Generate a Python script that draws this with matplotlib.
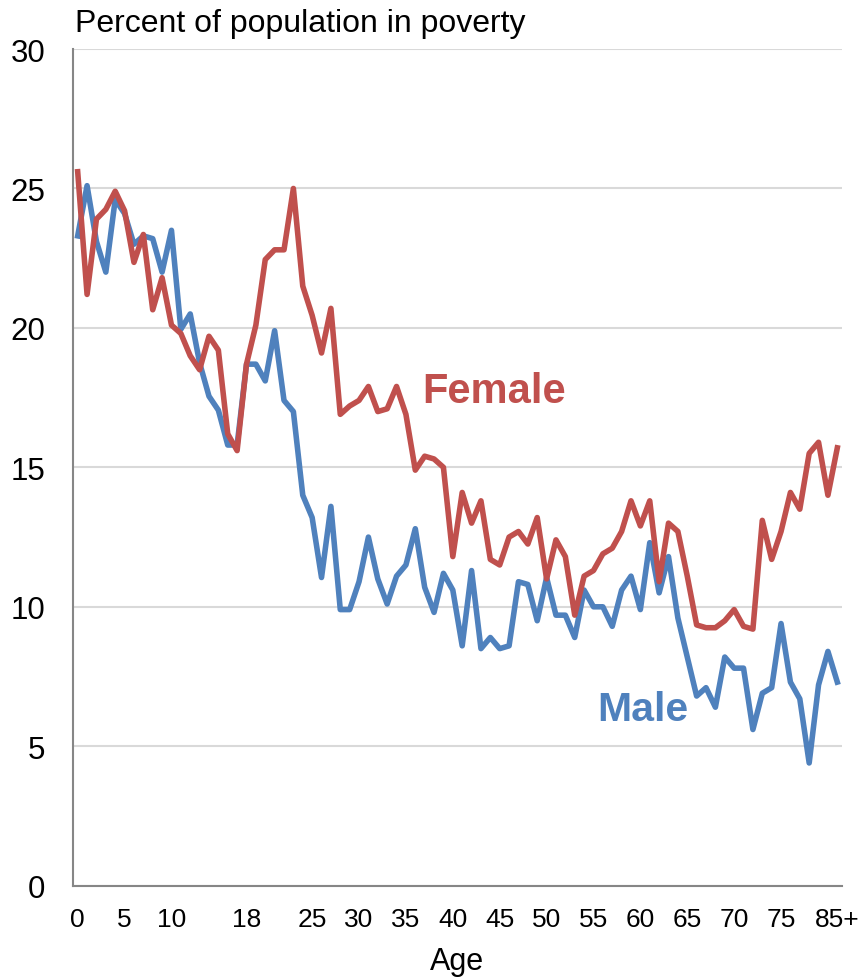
"""Poverty rate by single year of age, male vs female (line chart, labels on lines)."""

import matplotlib
matplotlib.use("Agg")
import matplotlib.pyplot as plt

# single years 0-79, then 80-84 and 85+ as the last two categories
age_index = list(range(82))

female = [25.6, 21.2, 23.9, 24.25, 24.9, 24.2, 22.35, 23.35, 20.65, 21.8,
          20.1, 19.8, 19.0, 18.5, 19.7, 19.2, 16.2, 15.6, 18.7, 20.1,
          22.45, 22.8, 22.8, 25.0, 21.5, 20.45, 19.1, 20.7, 16.9, 17.2,
          17.4, 17.9, 17.0, 17.1, 17.9, 16.9, 14.9, 15.4, 15.3, 15.0,
          11.8, 14.1, 13.0, 13.8, 11.7, 11.5, 12.5, 12.7, 12.25, 13.2,
          11.0, 12.4, 11.8, 9.7, 11.1, 11.3, 11.9, 12.1, 12.7, 13.8,
          12.9, 13.8, 10.9, 13.0, 12.7, 11.1, 9.35, 9.25, 9.25, 9.5,
          9.9, 9.3, 9.2, 13.1, 11.7, 12.7, 14.1, 13.5, 15.5, 15.9,
          14.0, 15.7]

male = [23.3, 25.1, 23.1, 22.0, 24.6, 24.1, 23.0, 23.3, 23.2, 22.0,
        23.5, 19.95, 20.5, 18.75, 17.55, 17.05, 15.8, 15.8, 18.7, 18.7,
        18.1, 19.9, 17.4, 17.0, 14.0, 13.2, 11.05, 13.6, 9.9, 9.9,
        10.9, 12.5, 11.0, 10.1, 11.1, 11.5, 12.8, 10.7, 9.8, 11.2,
        10.6, 8.6, 11.3, 8.5, 8.9, 8.5, 8.6, 10.9, 10.8, 9.5,
        11.05, 9.7, 9.7, 8.9, 10.6, 10.0, 10.0, 9.3, 10.6, 11.1,
        9.9, 12.3, 10.5, 11.8, 9.6, 8.2, 6.8, 7.1, 6.4, 8.2,
        7.8, 7.8, 5.6, 6.9, 7.1, 9.4, 7.3, 6.7, 4.4, 7.2,
        8.4, 7.3]

tick_pos = [0, 5, 10, 18, 25, 30, 35, 40, 45, 50, 55, 60, 65, 70, 75, 81]
tick_labels = ["0", "5", "10", "18", "25", "30", "35", "40", "45", "50",
               "55", "60", "65", "70", "75", "85+"]
y_ticks = [0, 5, 10, 15, 20, 25, 30]

RED = "#C0504D"
BLUE = "#4F81BD"

W, H = 862, 979


def main():
    plt.rcParams["font.family"] = ["Liberation Sans", "DejaVu Sans"]
    fig = plt.figure(figsize=(W / 100, H / 100), dpi=100)
    ax = fig.add_axes([73 / W, 1 - 886.7 / H, (842 - 73) / W, (886.7 - 50) / H])

    ax.plot(age_index, male, color=BLUE, lw=4, solid_joinstyle="round", zorder=3)
    ax.plot(age_index, female, color=RED, lw=4, solid_joinstyle="round", zorder=4)

    ax.set_xlim(-0.5, 81.5)
    ax.set_ylim(0, 30)
    ax.set_yticks(y_ticks)
    ax.set_xticks(tick_pos)
    ax.set_xticklabels(tick_labels)
    ax.grid(axis="y", color="#D9D9D9", lw=1.5, zorder=0)
    ax.set_axisbelow(True)
    ax.tick_params(axis="y", length=0, pad=20, labelsize=22.5, labelcolor="black")
    ax.tick_params(axis="x", length=0, pad=15, labelsize=19, labelcolor="black")

    for s in ("top", "right"):
        ax.spines[s].set_visible(False)
    for s in ("left", "bottom"):
        ax.spines[s].set_color("#868686")
        ax.spines[s].set_linewidth(1.5)

    # direct labels instead of a legend
    ax.text(36.7, 17.35, "Female", color=RED, fontsize=30, fontweight="bold",
            ha="left", va="baseline")
    ax.text(55.45, 5.95, "Male", color=BLUE, fontsize=29.5, fontweight="bold",
            ha="left", va="baseline")

    fig.text(75 / W, 1 - 32 / H, "Percent of population in poverty",
             fontsize=23, ha="left", va="baseline")
    fig.text(457 / W, 1 - 970 / H, "Age", fontsize=22, ha="center", va="baseline")

    fig.savefig("out.png", dpi=100)


if __name__ == "__main__":
    main()
